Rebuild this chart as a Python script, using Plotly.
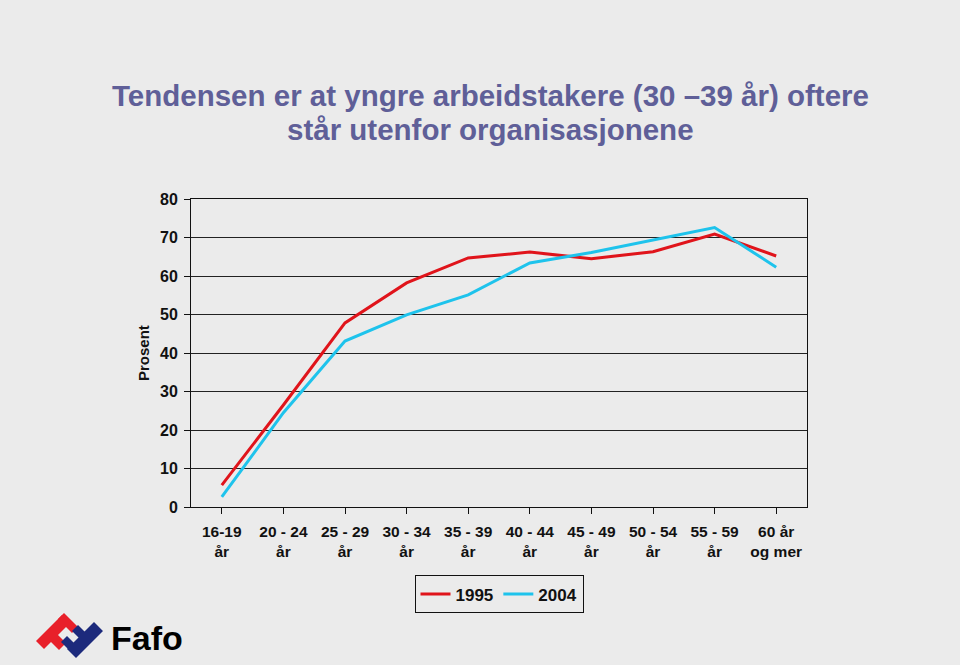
import plotly.graph_objects as go

categories = ["16-19<br>år", "20 - 24<br>år", "25 - 29<br>år", "30 - 34<br>år", "35 - 39<br>år",
              "40 - 44<br>år", "45 - 49<br>år", "50 - 54<br>år", "55 - 59<br>år", "60 år<br>og mer"]
values_1995 = [5.7, 26.5, 47.8, 58.2, 64.7, 66.2, 64.5, 66.3, 70.9, 65.2]
values_2004 = [2.6, 24.5, 43.1, 49.9, 55.1, 63.4, 66.1, 69.4, 72.6, 62.3]
y_ticks = [0, 10, 20, 30, 40, 50, 60, 70, 80]

BG = "#ebebeb"
FONT = "Liberation Sans, Arial, sans-serif"

# plot area in pixels
L, R, T, B = 191, 807, 199, 507
W, H = 960, 665


def px2paper(x, y):
    return (x - L) / (R - L), (B - y) / (B - T)


def path(points):
    pts = [px2paper(x, y) for x, y in points]
    return "M " + " L ".join(f"{a:.4f},{b:.4f}" for a, b in pts) + " Z"


fig = go.Figure()
fig.add_trace(go.Scatter(x=list(range(len(categories))), y=values_1995, mode="lines", name="1995",
                         line=dict(color="#e0141b", width=3)))
fig.add_trace(go.Scatter(x=list(range(len(categories))), y=values_2004, mode="lines", name="2004",
                         line=dict(color="#1ec3ec", width=3)))

fig.update_layout(
    width=W, height=H,
    margin=dict(l=L, r=W - R, t=T, b=H - B),
    paper_bgcolor=BG, plot_bgcolor=BG,
    font=dict(family=FONT, color="#111", size=15),
    showlegend=True,
    legend=dict(orientation="h", x=0.500, xanchor="center", y=-0.222, yanchor="top",
                bordercolor="#111", borderwidth=1, bgcolor=BG,
                font=dict(size=17, family=FONT, color="#111", weight="bold"),
                itemwidth=30, traceorder="normal"),
    xaxis=dict(
        tickmode="array", tickvals=list(range(len(categories))), ticktext=categories,
        range=[-0.5, len(categories) - 0.5],
        tickson="boundaries", ticks="outside", ticklen=6, tickcolor="#111",
        showline=True, linecolor="#111", linewidth=1, mirror=True,
        showgrid=False, zeroline=False, ticklabelstandoff=4,
        tickfont=dict(size=15.5, family=FONT, color="#111", weight="bold"),
    ),
    yaxis=dict(
        range=[0, 80], tickmode="array", tickvals=y_ticks,
        ticks="outside", ticklen=6, tickcolor="#111",
        showline=True, linecolor="#111", linewidth=1, mirror=True,
        showgrid=True, gridcolor="#222", gridwidth=1, zeroline=False,
        ticklabelstandoff=3,
        tickfont=dict(size=16, family=FONT, color="#111", weight="bold"),
    ),
    annotations=[
        dict(text="Tendensen er at yngre arbeidstakere (30 –39 år) oftere", xref="paper", yref="paper",
             x=px2paper(490, 0)[0], y=px2paper(0, 96)[1], showarrow=False, xanchor="center", yanchor="middle",
             font=dict(size=29.5, family=FONT, color="#5f5f98", weight="bold")),
        dict(text="står utenfor organisasjonene", xref="paper", yref="paper",
             x=px2paper(490, 0)[0], y=px2paper(0, 129)[1], showarrow=False, xanchor="center", yanchor="middle",
             font=dict(size=29.5, family=FONT, color="#5f5f98", weight="bold")),
        dict(text="Prosent", xref="paper", yref="paper", textangle=-90,
             x=px2paper(143, 0)[0], y=px2paper(0, 353)[1], showarrow=False, xanchor="center", yanchor="middle",
             font=dict(size=15, family=FONT, color="#111", weight="bold")),
        dict(text="Fafo", xref="paper", yref="paper",
             x=px2paper(109, 0)[0], y=px2paper(0, 638)[1], showarrow=False, xanchor="left", yanchor="middle",
             font=dict(size=34, family=FONT, color="#000", weight="bold")),
    ],
    shapes=[
        # red part of logo
        dict(type="path", xref="paper", yref="paper", line=dict(width=0), fillcolor="#e8202a",
             path=path([(36, 641), (62, 615), (70, 623), (44, 649)])),
        dict(type="path", xref="paper", yref="paper", line=dict(width=0), fillcolor="#e8202a",
             path=path([(58, 619), (64, 613), (78, 627), (72, 633)])),
        dict(type="path", xref="paper", yref="paper", line=dict(width=0), fillcolor="#e8202a",
             path=path([(46, 637), (53, 630), (66, 643), (59, 650)])),
        # navy part of logo
        dict(type="path", xref="paper", yref="paper", line=dict(width=0), fillcolor="#1c2a7c",
             path=path([(94, 622), (103, 631), (76, 658), (67, 649)])),
        dict(type="path", xref="paper", yref="paper", line=dict(width=0), fillcolor="#1c2a7c",
             path=path([(61, 642), (67, 636), (80, 649), (74, 655)])),
        dict(type="path", xref="paper", yref="paper", line=dict(width=0), fillcolor="#1c2a7c",
             path=path([(72, 631), (78, 625), (88, 635), (82, 641)])),
    ],
)

fig.write_html("out.html")
